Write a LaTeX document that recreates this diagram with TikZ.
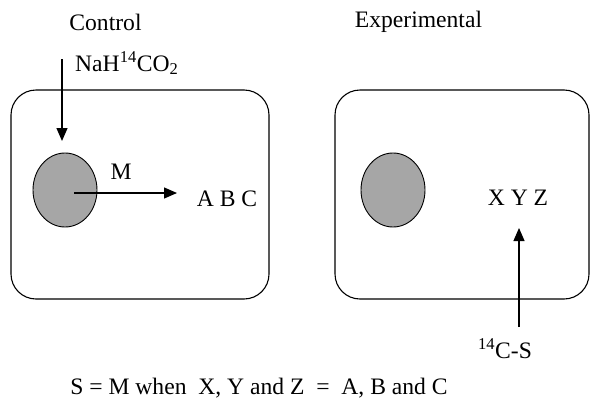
\documentclass[tikz,border=0pt]{standalone}
\usepackage{fontspec}
\setmainfont{Liberation Serif}
\usetikzlibrary{arrows.meta,shapes.geometric}
\begin{document}
\begin{tikzpicture}[x=1pt,y=-1pt,
  every node/.style={font=\fontsize{23.6}{28}\selectfont, inner sep=0pt},
  cell/.style={draw, line width=1.1pt, rounded corners=25pt},
  nucleus/.style={draw, line width=0.9pt, fill=gray!70!white},
  arr/.style={-{Triangle[length=13pt,width=11pt]}, line width=1.2pt}]
\useasboundingbox (0,0) rectangle (591,399);
\node[cell, minimum width=258pt, minimum height=209pt] (c1) at (140,194.5) {};
\node[cell, minimum width=254pt, minimum height=209pt] (c2) at (462,194.5) {};
\node[nucleus, ellipse, minimum width=64pt, minimum height=74pt] (n1) at (65,190) {};
\node[nucleus, ellipse, minimum width=64pt, minimum height=74pt] (n2) at (393,190) {};
\node (ctl) at (105.5,22) {Control};
\node (exp) at (418.5,22) {Experimental};
\node[anchor=west] (na) at (75,63) {NaH\textsuperscript{14}CO\textsubscript{2}};
\coordinate (s1) at (62,59);
\coordinate (t1) at (62,141);
\draw[arr] (s1) -- (t1);
\node (m) at (121,172) {M};
\node (abc) at (227,199) {A B C};
\coordinate (s2) at (74,193);
\coordinate (t2) at (177,193);
\draw[arr] (s2) -- (t2);
\node (xyz) at (518,198) {X Y Z};
\node (cs) at (505,349) {\textsuperscript{14}C-S};
\coordinate (s3) at (519,327);
\coordinate (t3) at (519,228);
\draw[arr] (s3) -- (t3);
\node (eq) at (259,388) {S = M when\ \ X, Y and Z\ \ =\ \ A, B and C};
\end{tikzpicture}
\end{document}
